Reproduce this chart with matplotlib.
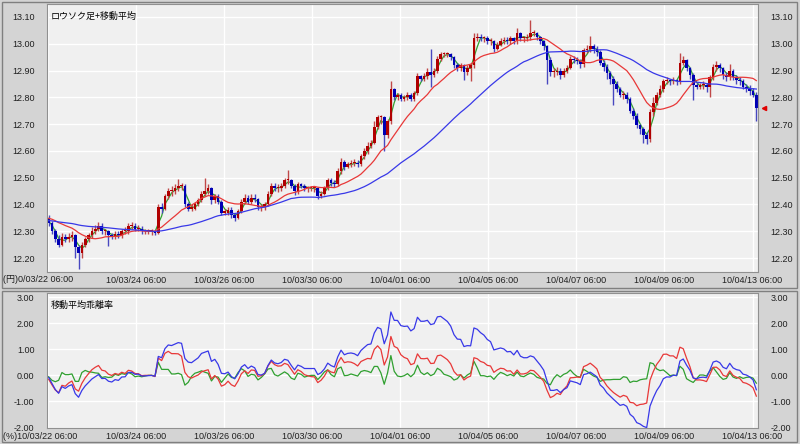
import numpy as np
import pandas as pd
import matplotlib
matplotlib.use("Agg")
import matplotlib.pyplot as plt
from matplotlib.patches import Rectangle

plt.rcParams['font.family'] = ['Liberation Sans', 'Noto Sans CJK JP']

# closing prices (one value per candle, left to right)
close = [
    12.33, 12.30, 12.27, 12.25, 12.28, 12.27, 12.28, 12.285, 12.24, 12.22,
    12.25, 12.27, 12.285, 12.30, 12.31, 12.32, 12.30, 12.30, 12.285, 12.28,
    12.29, 12.285, 12.30, 12.30, 12.32, 12.32, 12.31, 12.31, 12.30, 12.30,
    12.30, 12.30, 12.295, 12.39, 12.385, 12.43, 12.45, 12.45, 12.46, 12.47,
    12.47, 12.40, 12.385, 12.385, 12.40, 12.415, 12.44, 12.45, 12.46, 12.415,
    12.43, 12.41, 12.37, 12.37, 12.38, 12.36, 12.35, 12.375, 12.41, 12.425,
    12.41, 12.425, 12.42, 12.39, 12.39, 12.40, 12.44, 12.47, 12.46, 12.46,
    12.47, 12.49, 12.49, 12.47, 12.45, 12.475, 12.47, 12.46, 12.46, 12.46,
    12.46, 12.43, 12.44, 12.46, 12.49, 12.48, 12.475, 12.525, 12.56, 12.54,
    12.55, 12.555, 12.555, 12.55, 12.58, 12.60, 12.62, 12.63, 12.69, 12.725,
    12.725, 12.66, 12.71, 12.83, 12.80, 12.81, 12.795, 12.80, 12.81, 12.795,
    12.815, 12.88, 12.87, 12.88, 12.895, 12.885, 12.90, 12.945, 12.96, 12.96,
    12.96, 12.95, 12.92, 12.91, 12.92, 12.895, 12.91, 12.92, 13.02, 13.025,
    13.02, 13.02, 13.01, 13.01, 12.98, 12.995, 13.01, 13.015, 13.01, 13.02,
    13.01, 13.04, 13.02, 13.02, 13.025, 13.04, 13.04, 13.025, 13.01, 12.99,
    12.94, 12.895, 12.895, 12.90, 12.885, 12.90, 12.91, 12.945, 12.94, 12.935,
    12.925, 12.975, 12.98, 12.99, 12.98, 12.97, 12.93, 12.915, 12.89, 12.87,
    12.85, 12.83, 12.81, 12.81, 12.795, 12.75, 12.73, 12.695, 12.68, 12.66,
    12.645, 12.745, 12.78, 12.81, 12.83, 12.86, 12.865, 12.86, 12.865, 12.86,
    12.93, 12.94, 12.91, 12.885, 12.845, 12.84, 12.845, 12.845, 12.84, 12.875,
    12.915, 12.92, 12.91, 12.885, 12.875, 12.90, 12.875, 12.865, 12.86, 12.84,
    12.835, 12.825, 12.81, 12.76,
]
first_open = 12.35

high = [
    12.36, 12.34, 12.31, 12.285, 12.295, 12.29, 12.295, 12.30, 12.29, 12.25,
    12.26, 12.28, 12.295, 12.315, 12.325, 12.335, 12.33, 12.31, 12.305, 12.295,
    12.30, 12.30, 12.31, 12.315, 12.33, 12.335, 12.33, 12.325, 12.32, 12.31,
    12.31, 12.31, 12.305, 12.40, 12.405, 12.44, 12.46, 12.47, 12.475, 12.495,
    12.48, 12.475, 12.41, 12.40, 12.41, 12.425, 12.45, 12.50, 12.475, 12.465,
    12.44, 12.44, 12.415, 12.385, 12.39, 12.39, 12.37, 12.385, 12.42, 12.44,
    12.435, 12.44, 12.44, 12.425, 12.40, 12.41, 12.45, 12.48, 12.48, 12.475,
    12.48, 12.50, 12.527, 12.495, 12.475, 12.485, 12.48, 12.475, 12.47, 12.47,
    12.47, 12.465, 12.45, 12.47, 12.50, 12.50, 12.49, 12.535, 12.575, 12.565,
    12.56, 12.565, 12.57, 12.565, 12.59, 12.61, 12.635, 12.64, 12.71, 12.735,
    12.735, 12.73, 12.72, 12.86, 12.835, 12.815, 12.815, 12.81, 12.82, 12.815,
    12.825, 12.89, 12.885, 12.89, 12.91, 12.98, 12.91, 12.955, 12.97, 12.97,
    12.97, 12.965, 12.955, 12.93, 12.93, 12.925, 12.92, 12.93, 13.04, 13.04,
    13.035, 13.03, 13.03, 13.02, 13.015, 13.005, 13.02, 13.025, 13.025, 13.03,
    13.025, 13.06, 13.045, 13.03, 13.035, 13.09, 13.05, 13.045, 13.03, 13.015,
    12.995, 12.95, 12.91, 12.915, 12.91, 12.91, 12.92, 12.955, 12.955, 12.95,
    12.945, 12.985, 12.995, 13.03, 13.00, 12.99, 12.975, 12.94, 12.925, 12.90,
    12.88, 12.86, 12.84, 12.825, 12.82, 12.80, 12.76, 12.74, 12.70, 12.69,
    12.67, 12.755, 12.80, 12.82, 12.845, 12.87, 12.875, 12.87, 12.875, 12.87,
    12.965, 12.955, 12.945, 12.915, 12.89, 12.855, 12.855, 12.86, 12.855, 12.885,
    12.925, 12.935, 12.93, 12.915, 12.895, 12.925, 12.905, 12.885, 12.875, 12.87,
    12.85, 12.845, 12.835, 12.82,
]
low = [
    12.32, 12.29, 12.26, 12.24, 12.245, 12.26, 12.26, 12.265, 12.20, 12.16,
    12.20, 12.24, 12.26, 12.275, 12.29, 12.30, 12.29, 12.285, 12.245, 12.27,
    12.27, 12.275, 12.275, 12.29, 12.29, 12.31, 12.30, 12.30, 12.29, 12.29,
    12.29, 12.285, 12.285, 12.29, 12.37, 12.38, 12.42, 12.43, 12.44, 12.45,
    12.455, 12.39, 12.375, 12.375, 12.38, 12.395, 12.41, 12.43, 12.44, 12.40,
    12.405, 12.40, 12.36, 12.36, 12.36, 12.35, 12.337, 12.345, 12.37, 12.40,
    12.40, 12.40, 12.41, 12.38, 12.375, 12.38, 12.395, 12.43, 12.45, 12.445,
    12.45, 12.46, 12.475, 12.46, 12.435, 12.44, 12.46, 12.45, 12.445, 12.45,
    12.445, 12.42, 12.425, 12.435, 12.455, 12.47, 12.465, 12.47, 12.515, 12.53,
    12.535, 12.54, 12.545, 12.54, 12.545, 12.57, 12.59, 12.61, 12.625, 12.68,
    12.70, 12.60, 12.65, 12.70, 12.79, 12.79, 12.785, 12.785, 12.79, 12.785,
    12.785, 12.81, 12.86, 12.86, 12.87, 12.84, 12.875, 12.89, 12.935, 12.95,
    12.95, 12.94, 12.91, 12.90, 12.90, 12.865, 12.885, 12.86, 12.91, 13.01,
    13.01, 13.005, 13.00, 12.995, 12.97, 12.975, 12.99, 13.00, 13.00, 13.00,
    13.00, 13.00, 13.01, 13.005, 13.01, 13.015, 13.03, 13.015, 13.00, 12.975,
    12.85, 12.88, 12.875, 12.885, 12.87, 12.875, 12.89, 12.905, 12.93, 12.925,
    12.91, 12.915, 12.965, 12.97, 12.965, 12.955, 12.92, 12.90, 12.87, 12.85,
    12.77, 12.82, 12.80, 12.795, 12.78, 12.74, 12.72, 12.685, 12.665, 12.63,
    12.625, 12.635, 12.73, 12.77, 12.80, 12.82, 12.85, 12.845, 12.85, 12.845,
    12.85, 12.92, 12.90, 12.87, 12.79, 12.83, 12.83, 12.83, 12.82, 12.80,
    12.865, 12.90, 12.895, 12.87, 12.86, 12.865, 12.865, 12.85, 12.845, 12.83,
    12.82, 12.81, 12.80, 12.71,
]

# moving averages: period (candles), level at the left edge, colour
ma_periods = [3, 14, 41]
ma_seed = [12.34, 12.35, 12.34]
ma_colors = ['#30a030', '#e83838', '#3838e8']

date_labels = ['10/03/22 06:00', '10/03/24 06:00', '10/03/26 06:00',
               '10/03/30 06:00', '10/04/01 06:00', '10/04/05 06:00',
               '10/04/07 06:00', '10/04/09 06:00', '10/04/13 06:00']
price_ticks = [12.2, 12.3, 12.4, 12.5, 12.6, 12.7, 12.8, 12.9, 13.0, 13.1]
dev_ticks = [-2, -1, 0, 1, 2, 3]

close = np.array(close)
high = np.array(high)
low = np.array(low)
opn = np.r_[first_open, close[:-1]]
x = np.arange(len(close))


def sma(n, seed):
    s = pd.Series([seed] * (n - 1) + list(close))
    return s.rolling(n).mean().to_numpy()[n - 1:]


mas = [sma(n, s) for n, s in zip(ma_periods, ma_seed)]
devs = [(close - m) / m * 100 for m in mas]

BG = '#d4d4d4'
PANEL = '#f0f0f0'
W, H = 800, 444
fig = plt.figure(figsize=(8, 4.44), dpi=100, facecolor=BG)


def fx(px):
    return px / W


def fy(py):
    return 1 - py / H


ax1 = fig.add_axes([fx(47), fy(272), fx(758) - fx(47), fy(4) - fy(272)])
ax2 = fig.add_axes([fx(47), fy(427.5), fx(758) - fx(47), fy(292.7) - fy(427.5)])

tick_pos = [-0.3 + 26.52 * j for j in range(len(date_labels))]
xlim = (-0.5, len(close) - 0.5)

for ax in (ax1, ax2):
    ax.set_facecolor(PANEL)
    ax.set_xlim(*xlim)
    ax.set_xticks(tick_pos)
    ax.set_xticklabels([''] + date_labels[1:])
    ax.grid(True, color='white', lw=1.0)
    ax.set_axisbelow(True)
    ax.tick_params(length=0, labelsize=6.5, colors='#202020',
                   labelright=True, pad=3)
    ax.tick_params(axis='y', pad=9)
    for sp in ax.spines.values():
        sp.set_color('#909090')
        sp.set_linewidth(0.8)

# short average sits under the candles, the other two on top
ax1.plot(x, mas[0], color=ma_colors[0], lw=0.9, zorder=1)

up = close >= opn
dn = ~up
ax1.vlines(x[up], low[up], high[up], color='#c04848', lw=1.0, zorder=2)
ax1.vlines(x[dn], low[dn], high[dn], color='#4848c0', lw=1.0, zorder=2)
ax1.bar(x[up], np.maximum(close - opn, 0.004)[up], bottom=opn[up],
        width=0.8, color='#b00000', lw=0, zorder=2)
ax1.bar(x[dn], np.maximum(opn - close, 0.004)[dn], bottom=close[dn],
        width=0.8, color='#0000b4', lw=0, zorder=2)
for m, c in zip(mas[1:], ma_colors[1:]):
    ax1.plot(x, m, color=c, lw=0.9, zorder=3)
ax1.plot(len(close) + 1.2, close[-1], marker='<', color='#e00000', ms=3,
         clip_on=False)
ax1.set_ylim(12.148, 13.1485)
ax1.set_yticks(price_ticks)
ax1.set_yticklabels([f'{v:.2f}' for v in price_ticks])

for d, c in zip(devs, ma_colors):
    ax2.plot(x, d, color=c, lw=0.9)
ax2.set_ylim(-2.0, 3.17)
ax2.set_yticks(dev_ticks)
ax2.set_yticklabels([f'{v:.2f}' for v in dev_ticks])

ax1.text(0.005, 0.97, 'ロウソク足+移動平均', transform=ax1.transAxes,
         fontsize=6.5, family=['Noto Sans CJK JP'], va='top')
ax2.text(0.005, 0.94, '移動平均乖離率', transform=ax2.transAxes,
         fontsize=6.5, family=['Noto Sans CJK JP'], va='top')

fig.text(fx(3), fy(280), '(円)' + date_labels[0][1:], fontsize=6.5,
         va='center', ha='left', color='#202020')
fig.text(fx(3), fy(436.5), '(%)' + date_labels[0], fontsize=6.5,
         va='center', ha='left', color='#202020')

# panel frames
for y0, y1 in ((2, 288), (291, 442)):
    fig.add_artist(Rectangle((fx(2), fy(y1)), fx(797) - fx(2), fy(y0) - fy(y1),
                             transform=fig.transFigure, fill=False,
                             edgecolor='#808080', lw=1.0))

fig.savefig('out.png', dpi=100, facecolor=BG)
